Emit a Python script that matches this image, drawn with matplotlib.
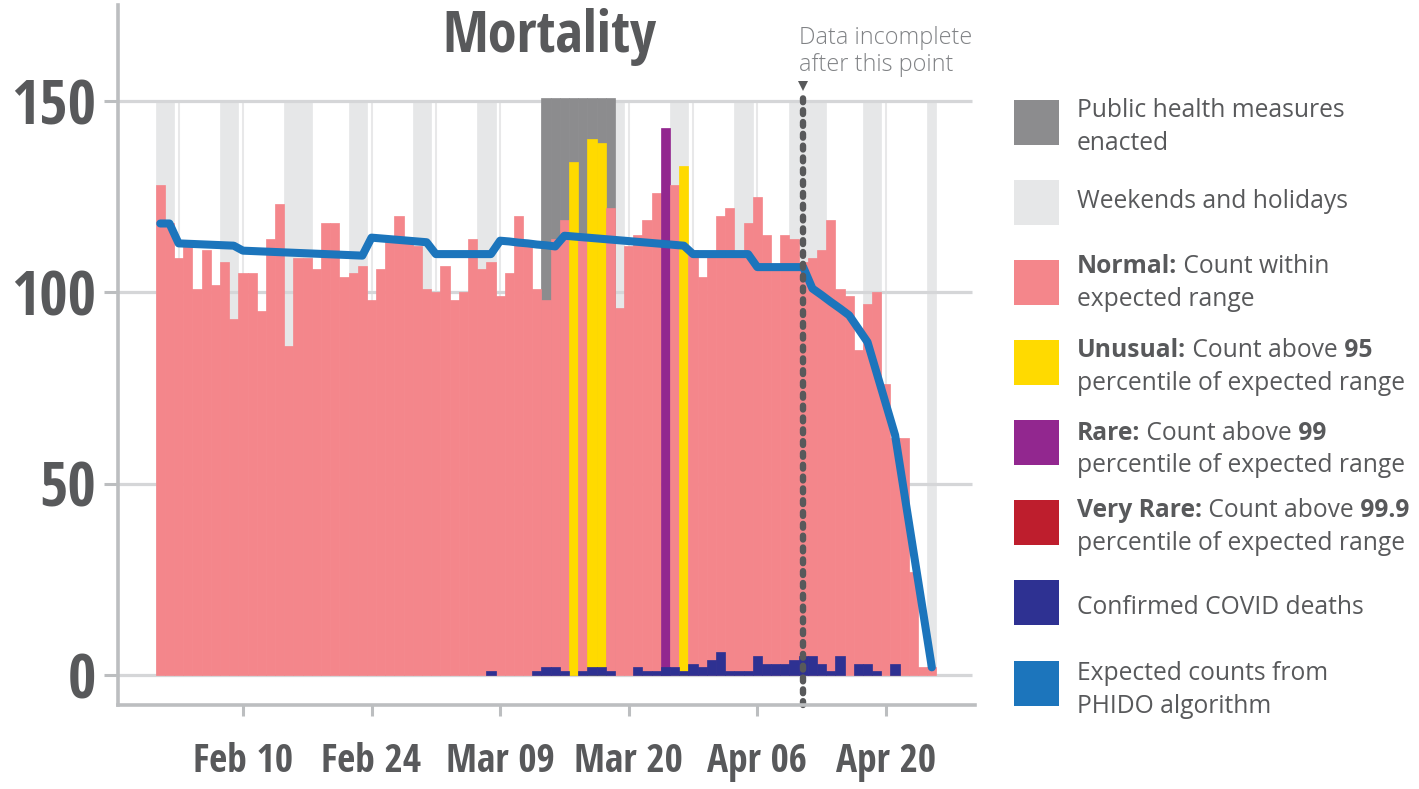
import os
import matplotlib
matplotlib.use("Agg")
import matplotlib.pyplot as plt
from matplotlib import font_manager as fm
from matplotlib.patches import Rectangle
import numpy as np

# ---------------- data (day 0 = Feb 1, 2020) ----------------
total_deaths = [128, 118, 109, 112, 101, 111, 102, 108, 93, 105,
                105, 95, 114, 123, 86, 109, 109, 106, 118, 118,
                104, 105, 107, 98, 106, 114, 120, 113, 112, 101,
                100, 107, 98, 100, 114, 106, 108, 99, 105, 120,
                112, 101, 98, 114, 119, 134, 115, 140, 139, 122,
                96, 112, 115, 119, 126, 143, 128, 133, 111, 104,
                110, 120, 122, 110, 118, 125, 115, 106, 115, 114,
                108, 109, 111, 119, 101, 99, 85, 97, 100, 76,
                62, 62, 27, 2, 2]

covid_deaths = [0, 0, 0, 0, 0, 0, 0, 0, 0, 0,
                0, 0, 0, 0, 0, 0, 0, 0, 0, 0,
                0, 0, 0, 0, 0, 0, 0, 0, 0, 0,
                0, 0, 0, 0, 0, 0, 1, 0, 0, 0,
                0, 1, 2, 2, 1, 0, 1, 2, 2, 1,
                0, 0, 2, 1, 1, 2, 2, 1, 3, 2,
                4, 6, 1, 1, 1, 5, 3, 3, 3, 4,
                5, 5, 3, 1, 5, 0, 3, 3, 1, 0,
                3, 0, 0, 0, 0]

expected_counts = [118, 118, 112.8, 112.7, 112.6, 112.5, 112.4, 112.3, 112.2, 110.9,
                   110.8, 110.7, 110.6, 110.5, 110.4, 110.3, 110.2, 110.1, 110.0, 109.9,
                   109.8, 109.7, 109.6, 114.3, 114.1, 113.9, 113.7, 113.5, 113.3, 113.1,
                   110.0, 110.0, 110.0, 110.0, 110.0, 110.0, 110.0, 113.5, 113.3, 113.0,
                   112.8, 112.5, 112.3, 112.0, 114.8, 114.6, 114.4, 114.2, 114.0, 113.8,
                   113.6, 113.4, 113.2, 113.0, 112.8, 112.6, 112.4, 112.2, 110.0, 110.0,
                   110.0, 110.0, 110.0, 110.0, 110.0, 106.6, 106.6, 106.6, 106.6, 106.6,
                   106.6, 101.0, 99.3, 97.5, 95.8, 94.0, 90.5, 87.0, 78.9, 70.8,
                   62.7, 47.5, 32.3, 17.2, 2.0]

unusual_days = [45, 47, 48, 57]
rare_days = [55]
very_rare_days = []
weekend_holiday_days = [0, 1, 7, 8, 14, 15, 16, 21, 22, 28, 29, 35, 36, 42, 43,
                        49, 50, 56, 57, 63, 64, 69, 70, 71, 72, 77, 78, 84]
measures_days = [42, 43, 44, 45, 46, 47, 48, 49]
monday_days = [2, 9, 16, 23, 30, 37, 44, 51, 58, 65, 72, 79]
incomplete_day = 70

xtick_days = [9, 23, 37, 51, 65, 79]
xtick_labels = ["Feb 10", "Feb 24", "Mar 09", "Mar 20", "Apr 06", "Apr 20"]
ytick_values = [0, 50, 100, 150]
ytick_labels = ["0", "50", "100", "150"]

# ---------------- style ----------------
W, H = 1419, 789
C_NORMAL = "#f4868b"
C_UNUSUAL = "#ffda00"
C_RARE = "#92278f"
C_VRARE = "#be1e2d"
C_COVID = "#2e3192"
C_LINE = "#1c75bc"
C_MEAS = "#8c8c8e"
C_WKND = "#e6e7e8"
C_GRID = "#d5d6d8"
C_VGRID = "#e8e8e9"
C_SPINE = "#bcbec0"
C_TXT = "#58595b"
C_NOTE = "#808285"

# ---------------- fonts ----------------
def _font_files():
    files = []
    for ext in ("ttf", "otf"):
        try:
            files += fm.findSystemFonts(fontext=ext)
        except Exception:
            pass
    files += [f.fname for f in fm.fontManager.ttflist]
    return list(dict.fromkeys(files))

_BYNAME = {os.path.basename(p).lower(): p for p in _font_files()}

def _find(names):
    for n in names:
        p = _BYNAME.get(n.lower())
        if p:
            return p
    return None

COND_BOLD = _find(["OpenSans_SemiCondensed-Bold.ttf", "NotoSans-SemiCondensedBold.ttf",
                   "OpenSans-CondBold.ttf", "OpenSans_Condensed-Bold.ttf",
                   "OpenSansCondensed-Bold.ttf", "NotoSans-CondensedBold.ttf",
                   "RobotoCondensed-Bold.ttf", "LiberationSansNarrow-Bold.ttf"])

def FP(kind, size):
    if kind == "cbold":
        if COND_BOLD:
            return fm.FontProperties(fname=COND_BOLD, size=size)
        return fm.FontProperties(family=["Open Sans", "DejaVu Sans"], weight="bold", size=size * 0.8)
    weight = {"bold": "bold", "regular": "normal", "light": "light"}[kind]
    return fm.FontProperties(family=["Open Sans", "DejaVu Sans"], weight=weight, size=size)

# ---------------- figure ----------------
fig = plt.figure(figsize=(W / 100, H / 100), dpi=100)
fig.patch.set_facecolor("white")
renderer = fig.canvas.get_renderer()

def fit(kind, text, target_px, nominal, lo=0.7, hi=1.3):
    t = fig.text(0, 0, text, fontproperties=FP(kind, nominal))
    w = t.get_window_extent(renderer=renderer).width
    t.remove()
    f = min(max(target_px / max(w, 1.0), lo), hi)
    return nominal * f

ax = fig.add_axes([118 / W, (H - 705) / H, (975 - 118) / W, 700 / H])
ax.set_facecolor("white")

days = np.arange(len(total_deaths))
bar_colors = []
for d in days:
    if d in very_rare_days:
        bar_colors.append(C_VRARE)
    elif d in rare_days:
        bar_colors.append(C_RARE)
    elif d in unusual_days:
        bar_colors.append(C_UNUSUAL)
    else:
        bar_colors.append(C_NORMAL)

# background columns
ax.vlines(monday_days, 0, 150, color=C_VGRID, lw=1.5, zorder=0.8)
ax.bar(weekend_holiday_days, [150] * len(weekend_holiday_days), width=1.0,
       color=C_WKND, edgecolor=C_WKND, linewidth=0.5, zorder=1)
ax.hlines(ytick_values, -4.6, 88.4, color=C_GRID, lw=2.3, zorder=1.5)
ax.bar(measures_days, [150.8] * len(measures_days), width=1.0,
       color=C_MEAS, edgecolor=C_MEAS, linewidth=0.5, zorder=1.6)

# bars
ax.bar(days, total_deaths, width=1.0, color=bar_colors, edgecolor=bar_colors,
       linewidth=0.5, zorder=3)
covid_arr = np.array(covid_deaths)
has_covid = covid_arr > 0
ax.bar(days[has_covid], covid_arr[has_covid], width=1.0, color=C_COVID,
       edgecolor=C_COVID, linewidth=0.5, zorder=4)

# expected line
ax.plot(days, expected_counts, color=C_LINE, lw=5.8, solid_capstyle="round",
        solid_joinstyle="round", zorder=5)

# data incomplete marker
ax.plot([incomplete_day, incomplete_day], [-7.8, 151.3], color=C_TXT, lw=4.6,
        linestyle=(0, (0.6, 1.25)), dash_capstyle="round", zorder=6, clip_on=False)
ax.plot([incomplete_day], [153.9], marker="v", ms=7.5, color=C_TXT,
        markeredgewidth=0, zorder=6, clip_on=False, linestyle="none")

ax.set_xlim(-4.6, 88.7)
ax.set_ylim(-7.84, 175.1)

for s in ("top", "right"):
    ax.spines[s].set_visible(False)
for s in ("left", "bottom"):
    ax.spines[s].set_color(C_SPINE)
    ax.spines[s].set_linewidth(2.6)
    ax.spines[s].set_zorder(7)

ysize = fit("cbold", "150", 85, 46, 0.9, 1.1)
xsize = fit("cbold", "Feb 10", 100, 29, 0.9, 1.1)
ax.set_yticks(ytick_values)
ax.set_yticklabels(ytick_labels, fontproperties=FP("cbold", ysize), color=C_TXT)
ax.set_xticks(xtick_days)
ax.set_xticklabels(xtick_labels, fontproperties=FP("cbold", xsize), color=C_TXT)
ax.tick_params(axis="y", length=10, width=2.2, color=C_SPINE, pad=6)
ax.tick_params(axis="x", length=8, width=2.2, color=C_SPINE, pad=19)

# title
tsize = fit("cbold", "Mortality", 223, 39, 1.0, 1.08)
fig.text(549 / W, 1 - 52 / H, "Mortality", fontproperties=FP("cbold", tsize),
         color=C_TXT, ha="center", va="baseline")

# annotation
asize = fit("light", "Data incomplete", 172, 17.5)
fig.text(799 / W, 1 - 44 / H, "Data incomplete", fontproperties=FP("light", asize),
         color=C_NOTE, ha="left", va="baseline")
fig.text(799 / W, 1 - 71 / H, "after this point", fontproperties=FP("light", asize),
         color=C_NOTE, ha="left", va="baseline")

# ---------------- legend ----------------
LEG_SIZE = 0.5 * (fit("regular", "Public health measures", 266, 20) +
                  fit("regular", "percentile of expected range", 328, 20))
TX = 1077

def runs(base_px, parts):
    x = TX
    for txt, kind in parts:
        t = fig.text(x / W, 1 - base_px / H, txt, fontproperties=FP(kind, LEG_SIZE),
                     color=C_TXT, ha="left", va="baseline")
        bb = t.get_window_extent(renderer=renderer)
        x = bb.x1

def swatch(top_px, color):
    fig.patches.append(Rectangle((1014 / W, 1 - (top_px + 45) / H), 45 / W, 45 / H,
                                 transform=fig.transFigure, facecolor=color,
                                 edgecolor="none", zorder=2))

legend_items = [
    (100, C_MEAS, [(117, [("Public health measures", "regular")]),
                   (150, [("enacted", "regular")])]),
    (180, C_WKND, [(208, [("Weekends and holidays", "regular")])]),
    (260, C_NORMAL, [(273, [("Normal:", "bold"), (" Count within", "regular")]),
                     (306, [("expected range", "regular")])]),
    (340, C_UNUSUAL, [(357, [("Unusual:", "bold"), (" Count above", "regular"), (" 95", "bold")]),
                      (390, [("percentile of expected range", "regular")])]),
    (420, C_RARE, [(440, [("Rare:", "bold"), (" Count above", "regular"), (" 99", "bold")]),
                   (472, [("percentile of expected range", "regular")])]),
    (500, C_VRARE, [(517, [("Very Rare:", "bold"), (" Count above", "regular"), (" 99.9", "bold")]),
                    (550, [("percentile of expected range", "regular")])]),
    (580, C_COVID, [(614, [("Confirmed COVID deaths", "regular")])]),
    (661, C_LINE, [(680, [("Expected counts from", "regular")]),
                   (713, [("PHIDO algorithm", "regular")])]),
]
for top, col, lines in legend_items:
    swatch(top, col)
    for base, parts in lines:
        runs(base, parts)

fig.savefig("out.png", dpi=100, facecolor="white")
